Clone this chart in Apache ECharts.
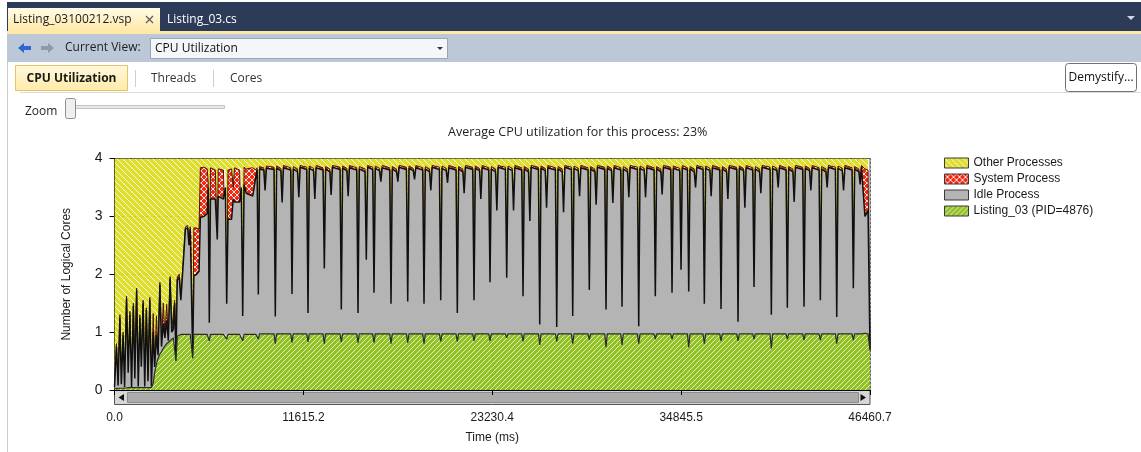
<!DOCTYPE html>
<html>
<head>
<meta charset="utf-8">
<script src="https://cdn.jsdelivr.net/npm/echarts/dist/echarts.min.js"></script>
<style>
html,body{margin:0;padding:0;background:#fff;}
#c{width:1141px;height:452px;}
</style>
</head>
<body>
<div id="c"></div>
<script>
// ---------------- data ----------------
const chartTitle = 'Average CPU utilization for this process: 23%';
const xAxisName = 'Time (ms)';
const yAxisName = 'Number of Logical Cores';
const xTickLabels = ['0.0', '11615.2', '23230.4', '34845.5', '46460.7'];
const xMax = 46460.7;
const seriesNames = ['Listing_03 (PID=4876)', 'Idle Process', 'System Process', 'Other Processes'];
const legendOrder = ['Other Processes', 'System Process', 'Idle Process', 'Listing_03 (PID=4876)'];

const timeMs = [
  0, 120, 220, 330, 420, 530, 620, 740, 840, 950,
  1050, 1160, 1250, 1360, 1460, 1560, 1650, 1760, 1860, 1960,
  2060, 2170, 2270, 2380, 2470, 2580, 2680, 2790, 2890, 3000,
  3100, 3210, 3310, 3420, 3520, 3620, 3700, 3780, 3860, 3980,
  4080, 4180, 4280, 4360, 4500, 4580, 4660, 4740, 4809, 4880,
  5050, 5200, 5280, 5500, 5700, 5760, 5830, 5900, 6200, 6320,
  6380, 6700, 6820, 6900, 6980, 7200, 7300, 7380, 7700, 7800,
  7884, 7970, 8100, 8500, 8700, 8770, 8844, 8920, 9180, 9260,
  9340,
  9809, 9889, 9969, 10229, 10309, 10389,
  10836, 10916, 10996, 11256, 11336, 11416,
  11820, 11900, 11980, 12240, 12320, 12400,
  12823, 12903, 12983, 13243, 13323, 13403,
  13868, 13948, 14028, 14288, 14368, 14448,
  14895, 14975, 15055, 15406, 15486, 15566,
  15879, 15959, 16039, 16299, 16379, 16459,
  16925, 17005, 17085, 17345, 17425, 17505,
  17952, 18032, 18112, 18372, 18452, 18532,
  18954, 19034, 19114, 19374, 19454, 19534,
  19981, 20061, 20141, 20401, 20481, 20561,
  21002, 21082, 21162, 21422, 21502, 21582,
  22029, 22109, 22189, 22449, 22529, 22609,
  23013, 23093, 23173, 23433, 23513, 23593,
  24040, 24120, 24200, 24460, 24540, 24620,
  25043, 25123, 25203, 25463, 25543, 25623,
  26070, 26150, 26230, 26490, 26570, 26650,
  27115, 27195, 27275, 27535, 27615, 27695,
  28099, 28179, 28259, 28519, 28599, 28679,
  29120, 29200, 29280, 29540, 29620, 29700,
  30147, 30227, 30307, 30567, 30647, 30727,
  31131, 31211, 31291, 31551, 31631, 31711,
  32158, 32238, 32318, 32578, 32658, 32738,
  33179, 33259, 33339, 33599, 33679, 33759,
  34206, 34286, 34366, 34760, 34840, 34920,
  35233, 35313, 35393, 35653, 35733, 35813,
  36193, 36273, 36353, 36613, 36693, 36773,
  37220, 37300, 37380, 37640, 37720, 37800,
  38265, 38345, 38425, 38685, 38765, 38845,
  39249, 39329, 39409, 39669, 39749, 39829,
  40313, 40393, 40473, 40733, 40813, 40893,
  41297, 41377, 41457, 41717, 41797, 41877,
  42324, 42404, 42484, 42744, 42824, 42904,
  43327, 43407, 43487, 43747, 43827, 43907,
  44335, 44415, 44495, 44755, 44835, 44915,
  45356, 45436, 45516, 45776, 45856, 45936,
  46150, 46340, 46460.7
];

const listing = [
  .02, .03, .03, .03, .03, .03, .03, .04, .04, .04,
  .04, .04, .04, .04, .04, .04, .04, .04, .04, .04,
  .04, .04, .04, .12, .30, .45, .55, .62, .66, .72,
  .76, .80, .82, .85, .87, .90, .90, .50, .93, .95,
  .96, .96, .96, .96, .96, .96, .96, .96, .55, .96,
  .96, .96, .96, .96, .96, .96, .85, .96, .96, .96,
  .96, .96, .96, .88, .96, .96, .96, .96, .96, .96,
  .85, .96, .96, .96, .96, .96, .88, .97, .97, .97,
  .97,
  .97, .80, .97, .97, .97, .97,
  .97, .82, .97, .97, .97, .97,
  .97, .83, .97, .97, .97, .97,
  .97, .80, .97, .97, .97, .97,
  .97, .83, .97, .97, .97, .97,
  .97, .82, .97, .97, .97, .97,
  .97, .82, .97, .97, .97, .97,
  .97, .80, .97, .97, .97, .97,
  .97, .82, .97, .97, .97, .97,
  .97, .80, .97, .97, .97, .97,
  .97, .84, .97, .97, .97, .97,
  .97, .84, .97, .97, .97, .97,
  .97, .85, .97, .97, .97, .97,
  .97, .85, .97, .97, .97, .97,
  .97, .90, .97, .97, .97, .97,
  .97, .84, .97, .97, .97, .97,
  .97, .78, .97, .97, .97, .97,
  .97, .84, .97, .97, .97, .97,
  .97, .80, .97, .97, .97, .97,
  .97, .87, .97, .97, .97, .97,
  .97, .74, .97, .97, .97, .97,
  .97, .78, .97, .97, .97, .97,
  .97, .80, .97, .97, .97, .97,
  .97, .88, .97, .97, .97, .97,
  .97, .88, .97, .97, .97, .97,
  .97, .74, .97, .97, .97, .97,
  .97, .80, .97, .97, .97, .97,
  .97, .85, .97, .97, .97, .97,
  .97, .85, .97, .97, .97, .97,
  .97, .88, .97, .97, .97, .97,
  .97, .72, .97, .97, .97, .97,
  .97, .88, .97, .97, .97, .97,
  .97, .86, .97, .97, .97, .97,
  .97, .86, .97, .97, .97, .97,
  .97, .80, .97, .97, .97, .97,
  .97, .86, .97, .97, .97, .97,
  .98, .97, .68
];

const idle = [
  .03, .72, .05, 1.22, .07, .92, .02, 1.54, .26, 1.26,
  .01, 1.41, .16, 1.68, .02, 1.21, .36, 1.46, .02, 1.34,
  .11, 1.51, .02, .88, .10, .50, .05, 1.20, .09, .43,
  .14, .40, .03, 1.07, .13, .15, .60, .00, .97, 1.00,
  .59, 1.02, 1.04, 1.82, 1.84, 1.54, 1.82, 1.79, .03, 1.01,
  1.04, 1.09, 2.02, 2.04, 2.09, 2.54, .31, 2.34, 2.34, 1.64,
  2.39, 2.34, 2.54, .61, 1.99, 1.99, 2.34, 2.29, 2.29, 2.54,
  .43, 2.59, 2.44, 2.39, 2.74, 2.84, .77, 2.85, 2.83, 2.48,
  2.86,
  2.84, .47, 2.86, 2.82, 2.27, 2.87,
  2.83, .84, 2.85, 2.80, 2.36, 2.88,
  2.84, .50, 2.86, 2.82, 2.33, 2.87,
  2.83, 1.30, 2.85, 2.80, 2.40, 2.88,
  2.84, .56, 2.86, 2.82, 2.38, 2.87,
  2.83, .51, 2.85, 2.80, 1.28, 2.88,
  2.84, .86, 2.86, 2.82, 2.63, 2.87,
  2.83, .69, 2.85, 2.80, 2.63, 2.88,
  2.84, .71, 2.86, 2.82, 2.67, 2.87,
  2.83, .69, 2.85, 2.80, 2.48, 2.88,
  2.84, .71, 2.86, 2.82, 2.61, 2.87,
  2.83, .49, 2.85, 2.80, 2.43, 2.88,
  2.84, .70, 2.86, 2.82, 2.33, 2.87,
  2.83, 1.01, 2.85, 2.80, 2.13, 2.88,
  2.84, 1.04, 2.86, 2.82, 2.13, 2.87,
  2.83, .78, 2.85, 2.80, 1.95, 2.88,
  2.84, .35, 2.86, 2.82, 2.18, 2.87,
  2.83, .25, 2.85, 2.80, 2.10, 2.88,
  2.84, .48, 2.86, 2.82, 2.38, 2.87,
  2.83, .86, 2.85, 2.80, 2.23, 2.88,
  2.84, .65, 2.86, 2.82, 2.26, 2.87,
  2.83, .66, 2.85, 2.80, 2.36, 2.88,
  2.84, .30, 2.86, 2.82, 2.36, 2.87,
  2.83, .74, 2.85, 2.80, 2.41, 2.88,
  2.84, .80, 2.86, 2.82, 1.11, 2.87,
  2.83, .96, 2.85, 2.80, 2.53, 2.88,
  2.84, .69, 2.86, 2.82, 2.38, 2.87,
  2.83, .55, 2.85, 2.80, 2.33, 2.88,
  2.84, .33, 2.86, 2.82, 2.18, 2.87,
  2.83, .90, 2.85, 2.80, 2.43, 2.88,
  2.84, .58, 2.86, 2.82, 2.53, 2.87,
  2.83, .54, 2.85, 2.80, 2.28, 2.88,
  2.84, .58, 2.86, 2.82, 2.48, 2.87,
  2.83, .69, 2.85, 2.80, 2.53, 2.88,
  2.84, .46, 2.86, 2.82, 2.48, 2.87,
  2.83, .90, 2.85, 2.80, 2.58, 2.88,
  2.02, 2.13, .02
];

const system = [
  .01, .05, .02, .05, .02, .05, .02, .04, .03, .06,
  .03, .05, .04, .04, .02, .05, .05, .05, .02, .04,
  .03, .05, .02, .32, .05, .33, .05, .04, .05, .35,
  .05, .28, .05, .04, .05, .27, .05, .02, .05, .05,
  .05, .04, .05, .04, .04, .05, .04, .05, .02, .83,
  .80, .73, .86, .85, .77, .10, .04, .54, .50, .05,
  .47, .50, .32, .04, .85, .87, .20, .59, .55, .32,
  .04, .30, .42, .49, .10, .04, .04, .04, .04, .04,
  .04,
  .04, .04, .04, .04, .04, .04,
  .04, .04, .04, .05, .04, .03,
  .04, .04, .04, .04, .04, .04,
  .04, .04, .04, .05, .04, .03,
  .04, .04, .04, .04, .04, .04,
  .04, .04, .04, .05, .04, .03,
  .04, .04, .04, .04, .04, .04,
  .04, .04, .04, .05, .04, .03,
  .04, .04, .04, .04, .04, .04,
  .04, .04, .04, .05, .04, .03,
  .04, .04, .04, .04, .04, .04,
  .04, .04, .04, .05, .04, .03,
  .04, .04, .04, .04, .04, .04,
  .04, .04, .04, .05, .04, .03,
  .04, .04, .04, .04, .04, .04,
  .04, .04, .04, .05, .04, .03,
  .04, .04, .04, .04, .04, .04,
  .04, .04, .04, .05, .04, .03,
  .04, .04, .04, .04, .04, .04,
  .04, .04, .04, .05, .04, .03,
  .04, .04, .04, .04, .04, .04,
  .04, .04, .04, .05, .04, .03,
  .04, .04, .04, .04, .04, .04,
  .04, .04, .04, .05, .04, .03,
  .04, .04, .04, .04, .04, .04,
  .04, .04, .04, .05, .04, .03,
  .04, .04, .04, .04, .04, .04,
  .04, .04, .04, .05, .04, .03,
  .04, .04, .04, .04, .04, .04,
  .04, .04, .04, .05, .04, .03,
  .04, .04, .04, .04, .04, .04,
  .04, .04, .04, .05, .04, .03,
  .04, .04, .04, .04, .04, .04,
  .04, .04, .04, .05, .04, .03,
  .04, .04, .04, .04, .04, .04,
  .04, .04, .04, .05, .04, .03,
  .82, .70, .02
];

const other = [
  3.94, 3.20, 3.90, 2.70, 3.88, 3.00, 3.93, 2.38, 3.67, 2.64,
  3.92, 2.50, 3.76, 2.24, 3.92, 2.70, 3.55, 2.45, 3.92, 2.58,
  3.82, 2.40, 3.92, 2.68, 3.55, 2.72, 3.35, 2.14, 3.20, 2.50,
  3.05, 2.52, 3.10, 2.04, 2.95, 2.68, 2.45, 3.48, 2.05, 2.00,
  2.40, 1.98, 1.95, 1.18, 1.16, 1.45, 1.18, 1.20, 3.40, 1.20,
  1.20, 1.22, .16, .15, .18, .40, 2.80, .16, .20, 1.35,
  .18, .20, .18, 2.47, .20, .18, .50, .16, .20, .18,
  2.68, .15, .18, .16, .20, .16, 2.31, .14, .16, .51,
  .13,
  .15, 2.69, .13, .17, .72, .12,
  .16, 2.30, .14, .18, .63, .12,
  .15, 2.63, .13, .17, .66, .12,
  .16, 1.86, .14, .18, .59, .12,
  .15, 2.57, .13, .17, .61, .12,
  .16, 2.63, .14, .18, 1.71, .12,
  .15, 2.28, .13, .17, .36, .12,
  .16, 2.47, .14, .18, .36, .12,
  .15, 2.43, .13, .17, .32, .12,
  .16, 2.47, .14, .18, .51, .12,
  .15, 2.41, .13, .17, .38, .12,
  .16, 2.63, .14, .18, .56, .12,
  .15, 2.41, .13, .17, .66, .12,
  .16, 2.10, .14, .18, .86, .12,
  .15, 2.02, .13, .17, .86, .12,
  .16, 2.34, .14, .18, 1.04, .12,
  .15, 2.83, .13, .17, .81, .12,
  .16, 2.87, .14, .18, .89, .12,
  .15, 2.68, .13, .17, .61, .12,
  .16, 2.23, .14, .18, .76, .12,
  .15, 2.57, .13, .17, .73, .12,
  .16, 2.52, .14, .18, .63, .12,
  .15, 2.86, .13, .17, .63, .12,
  .16, 2.34, .14, .18, .58, .12,
  .15, 2.28, .13, .17, 1.88, .12,
  .16, 2.26, .14, .18, .46, .12,
  .15, 2.47, .13, .17, .61, .12,
  .16, 2.56, .14, .18, .66, .12,
  .15, 2.78, .13, .17, .81, .12,
  .16, 2.18, .14, .18, .56, .12,
  .15, 2.66, .13, .17, .46, .12,
  .16, 2.54, .14, .18, .71, .12,
  .15, 2.52, .13, .17, .51, .12,
  .16, 2.41, .14, .18, .46, .12,
  .15, 2.70, .13, .17, .51, .12,
  .16, 2.20, .14, .18, .41, .12,
  .18, .20, 3.28
];

// ---------------- styles ----------------
function hatch(base, stripe, dir, size, lw) {
  const c = document.createElement('canvas');
  c.width = size; c.height = size;
  const g = c.getContext('2d');
  g.fillStyle = base; g.fillRect(0, 0, size, size);
  g.strokeStyle = stripe; g.lineWidth = lw;
  g.beginPath();
  for (let k = -size; k <= size; k += size) {
    if (dir === 'down' || dir === 'both') { g.moveTo(k, 0); g.lineTo(k + size, size); }
    if (dir === 'up' || dir === 'both') { g.moveTo(k, size); g.lineTo(k + size, 0); }
  }
  g.stroke();
  return { image: c, repeat: 'repeat' };
}
const fills = {
  'Other Processes': hatch('rgba(216,216,14,0.86)', 'rgba(255,255,255,0.8)', 'down', 6, 1.0),
  'System Process': hatch('#f22a12', 'rgba(255,255,255,0.85)', 'both', 6, 1.0),
  'Idle Process': '#b4b4b4',
  'Listing_03 (PID=4876)': hatch('rgba(128,184,0,0.86)', 'rgba(255,255,255,0.8)', 'up', 5, 0.9)
};
const lineCol = {
  'Listing_03 (PID=4876)': ['#2a2a2a', 1.2],
  'Idle Process': ['#101010', 1.5],
  'System Process': ['#4a1208', 1.0],
  'Other Processes': ['#444', 0]
};
const zOf = { 'Listing_03 (PID=4876)': 5, 'Idle Process': 4, 'System Process': 3, 'Other Processes': 2 };
const valuesOf = {
  'Listing_03 (PID=4876)': listing,
  'Idle Process': idle,
  'System Process': system,
  'Other Processes': other
};

const axisFont = '"Liberation Sans", Arial, sans-serif';
const uiFont = '"Open Sans", "Noto Sans", sans-serif';
const xInterval = xMax / 4;

const LG = echarts.graphic.LinearGradient;
const chrome = [
  { type: 'rect', shape: { x: 7, y: 2, width: 1134, height: 30 }, style: { fill: '#2b3b58' } },
  { type: 'rect', shape: { x: 8, y: 8, width: 152, height: 24 }, style: { fill: new LG(0, 0, 0, 1, [{ offset: 0, color: '#fffbe6' }, { offset: 1, color: '#ffe8a6' }]) } },
  { type: 'text', style: { text: 'Listing_03100212.vsp', x: 13, y: 20, font: '12px ' + uiFont, fill: '#1b1b1b', verticalAlign: 'middle' } },
  { type: 'line', shape: { x1: 146, y1: 16, x2: 153, y2: 23 }, style: { stroke: '#5a5a5a', lineWidth: 1.3 } },
  { type: 'line', shape: { x1: 153, y1: 16, x2: 146, y2: 23 }, style: { stroke: '#5a5a5a', lineWidth: 1.3 } },
  { type: 'text', style: { text: 'Listing_03.cs', x: 167, y: 20, font: '12px ' + uiFont, fill: '#ffffff', verticalAlign: 'middle' } },
  { type: 'polygon', shape: { points: [[1127, 16], [1135, 16], [1131, 20]] }, style: { fill: '#d0d7e3' } },
  { type: 'rect', shape: { x: 7, y: 31, width: 1134, height: 3 }, style: { fill: '#ffe8a6' } },
  { type: 'rect', shape: { x: 7, y: 34, width: 1134, height: 28 }, style: { fill: '#bcc7d8' } },
  { type: 'polygon', shape: { points: [[18, 48], [24, 43], [24, 46], [31, 46], [31, 50], [24, 50], [24, 53]] }, style: { fill: '#2d66cc' } },
  { type: 'polygon', shape: { points: [[54, 48], [48, 43], [48, 46], [41, 46], [41, 50], [48, 50], [48, 53]] }, style: { fill: '#8e99aa' } },
  { type: 'text', style: { text: 'Current View:', x: 65, y: 48, font: '12px ' + uiFont, fill: '#1e1e1e', verticalAlign: 'middle' } },
  { type: 'rect', shape: { x: 150.5, y: 38.5, width: 297, height: 20 }, style: { fill: '#f4f6fa', stroke: '#9aa5b8' } },
  { type: 'text', style: { text: 'CPU Utilization', x: 155, y: 48.5, font: '12px ' + uiFont, fill: '#111', verticalAlign: 'middle' } },
  { type: 'polygon', shape: { points: [[437, 47], [443, 47], [440, 50]] }, style: { fill: '#333' } },
  { type: 'rect', shape: { x: 15.5, y: 65.5, width: 112, height: 25 }, style: { fill: new LG(0, 0, 0, 1, [{ offset: 0, color: '#fff8dc' }, { offset: 1, color: '#ffeaa8' }]), stroke: '#e5c365' } },
  { type: 'text', style: { text: 'CPU Utilization', x: 71.5, y: 78.5, font: 'bold 12px ' + uiFont, fill: '#1a1a1a', align: 'center', verticalAlign: 'middle' } },
  { type: 'line', shape: { x1: 135.5, y1: 70, x2: 135.5, y2: 87 }, style: { stroke: '#cfcfcf' } },
  { type: 'text', style: { text: 'Threads', x: 151, y: 78.5, font: '12px ' + uiFont, fill: '#333', verticalAlign: 'middle' } },
  { type: 'line', shape: { x1: 213.5, y1: 70, x2: 213.5, y2: 87 }, style: { stroke: '#cfcfcf' } },
  { type: 'text', style: { text: 'Cores', x: 230, y: 78.5, font: '12px ' + uiFont, fill: '#333', verticalAlign: 'middle' } },
  { type: 'rect', shape: { x: 1065.5, y: 63.5, width: 71, height: 28, r: 3 }, style: { fill: '#fff', stroke: '#707070' } },
  { type: 'text', style: { text: 'Demystify...', x: 1101, y: 78, font: '12px ' + uiFont, fill: '#111', align: 'center', verticalAlign: 'middle' } },
  { type: 'line', shape: { x1: 20, y1: 92.5, x2: 1141, y2: 92.5 }, style: { stroke: '#dadada' } },
  { type: 'text', style: { text: 'Zoom', x: 25, y: 112, font: '12px ' + uiFont, fill: '#1e1e1e', verticalAlign: 'middle' } },
  { type: 'rect', shape: { x: 66.5, y: 105.5, width: 158, height: 3 }, style: { fill: '#e8e8e8', stroke: '#c4c4c4' } },
  { type: 'rect', shape: { x: 65.5, y: 98.5, width: 10, height: 20, r: 2 }, style: { fill: '#efefef', stroke: '#8f8f8f' } },
  { type: 'line', shape: { x1: 7.5, y1: 62, x2: 7.5, y2: 452 }, style: { stroke: '#cdcdcd' } },
  // scrollbar under plot
  { type: 'rect', shape: { x: 114.5, y: 390.5, width: 755.5, height: 14 }, style: { fill: '#d6d6d6', stroke: '#555' } },
  { type: 'rect', shape: { x: 127.5, y: 392.5, width: 731, height: 10 }, style: { fill: '#acacac', stroke: '#8c8c8c' } },
  { type: 'polygon', shape: { points: [[118.5, 397.5], [124, 394], [124, 401]] }, style: { fill: '#111' } },
  { type: 'polygon', shape: { points: [[866, 397.5], [860.5, 394], [860.5, 401]] }, style: { fill: '#111' } }
];

// ---------------- chart ----------------
const chart = echarts.init(document.getElementById('c'), null, { renderer: 'canvas' });
const option = {
  animation: false,
  backgroundColor: '#ffffff',
  title: {
    text: chartTitle, left: 448, top: 126, padding: 0,
    textStyle: { fontFamily: uiFont, fontSize: 12.5, fontWeight: 'normal', color: '#1e1e1e' }
  },
  legend: {
    orient: 'vertical', left: 944, top: 157, padding: 0,
    itemWidth: 24, itemHeight: 10, itemGap: 4, icon: 'rect', selectedMode: false,
    textStyle: { fontFamily: axisFont, fontSize: 12, color: '#1a1a1a' },
    data: legendOrder.map(n => ({
      name: n, icon: 'rect',
      itemStyle: { color: fills[n], borderColor: '#3a3a3a', borderWidth: 1 }
    }))
  },
  grid: {
    left: 114.5, right: 271, top: 158.5, bottom: 62,
    show: true, borderColor: '#5a5a5a', borderWidth: 1, backgroundColor: '#ffffff',
    containLabel: false, outerBoundsMode: 'none'
  },
  xAxis: {
    type: 'value', min: 0, max: xMax, interval: xInterval, offset: 15,
    name: xAxisName, nameLocation: 'middle', nameGap: 27,
    nameTextStyle: { fontFamily: axisFont, fontSize: 12, color: '#1a1a1a' },
    axisLine: { show: true, lineStyle: { color: '#000', width: 1 } },
    axisTick: { show: true, length: 5, lineStyle: { color: '#000' } },
    axisLabel: {
      margin: 7, fontFamily: axisFont, fontSize: 12, color: '#1a1a1a',
      showMinLabel: true, showMaxLabel: true, hideOverlap: false,
      formatter: v => xTickLabels[Math.round(v / xInterval)]
    },
    splitLine: { show: true, lineStyle: { type: [1, 3], color: '#222', width: 1 } }
  },
  yAxis: {
    type: 'value', min: 0, max: 4, interval: 1,
    name: yAxisName, nameLocation: 'middle', nameRotate: 90, nameGap: 42,
    nameTextStyle: { fontFamily: axisFont, fontSize: 12, color: '#1a1a1a' },
    axisLine: { show: true, lineStyle: { color: '#000', width: 1 } },
    axisTick: { show: true, length: 5, lineStyle: { color: '#000' } },
    axisLabel: { margin: 12, fontFamily: axisFont, fontSize: 14, color: '#1a1a1a' },
    splitLine: { show: true, lineStyle: { type: [1, 3], color: '#222', width: 1 } }
  },
  graphic: chrome,
  // value first, time second, so the stack is applied to the value (y) dimension
  series: seriesNames.map(n => ({
    name: n, type: 'line', stack: 'cpu',
    data: timeMs.map((t, i) => [valuesOf[n][i], t]),
    encode: { x: 1, y: 0 },
    showSymbol: false, symbol: 'none', silent: true, z: zOf[n],
    emphasis: { disabled: true },
    itemStyle: { color: typeof fills[n] === 'string' ? fills[n] : '#888' },
    lineStyle: { color: lineCol[n][0], width: lineCol[n][1] },
    areaStyle: { color: fills[n], opacity: 1 }
  }))
};
chart.setOption(option);
</script>
</body>
</html>
